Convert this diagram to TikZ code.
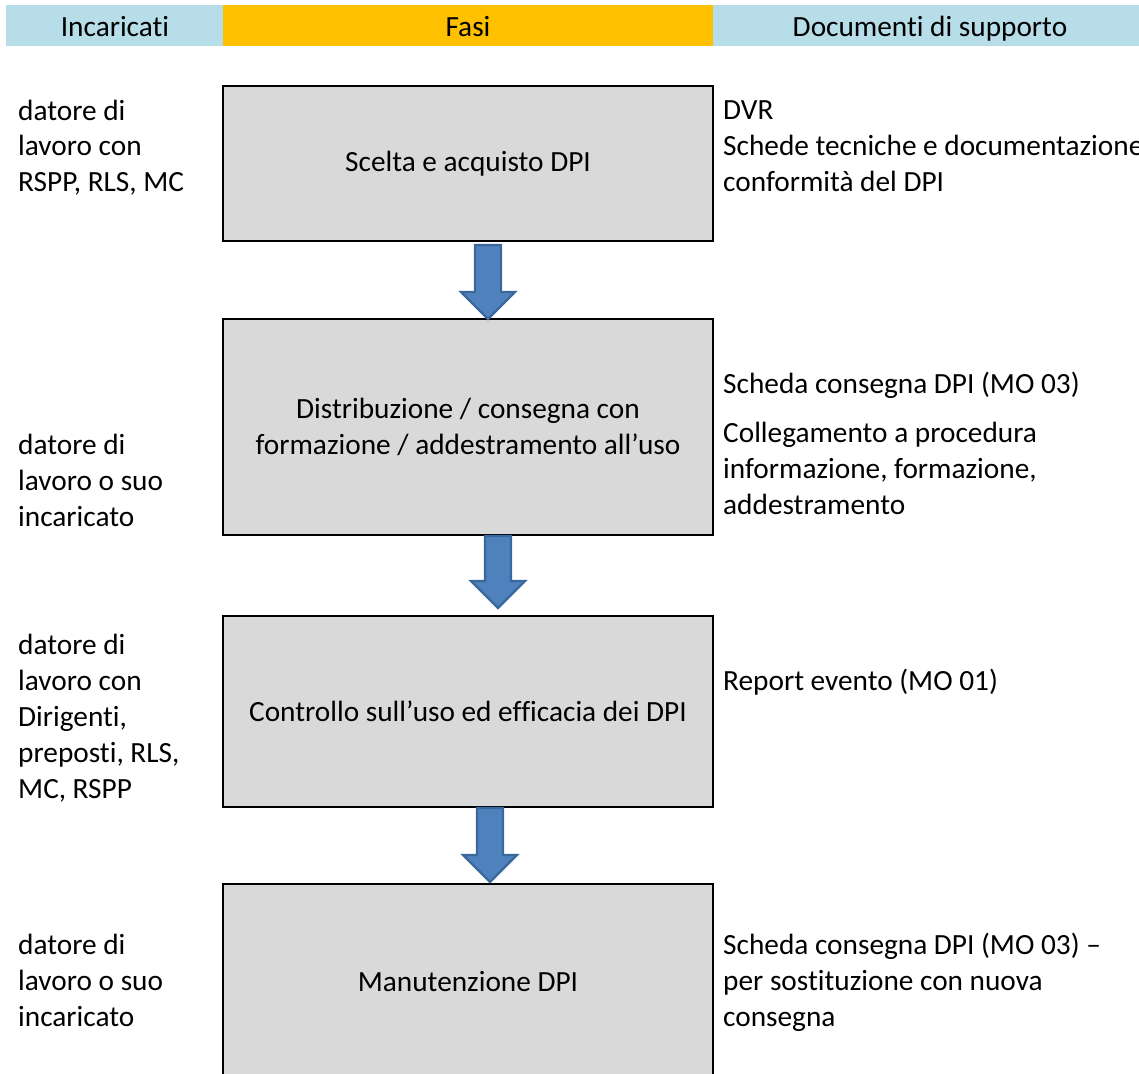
\documentclass[tikz,border=0pt]{standalone}
\usepackage{fontspec}
\setmainfont{Carlito}[Ligatures={NoCommon}]
\definecolor{hdrblue}{HTML}{B7DDE8}
\definecolor{hdryellow}{HTML}{FFC000}
\definecolor{boxgray}{HTML}{D9D9D9}
\definecolor{arrfill}{HTML}{4F81BD}
\definecolor{arrline}{HTML}{3A679C}
\newcommand\blockarrow[3]{%
  \filldraw[barrow] (#1-13,#2) -- (#1+13,#2) -- (#1+13,#3-27) -- (#1+27,#3-27)
    -- (#1,#3) -- (#1-27,#3-27) -- (#1-13,#3-27) -- cycle;}
\begin{document}
\begin{tikzpicture}[x=1pt,y=-1pt,
  every node/.style={font=\fontsize{29.3}{35.5}\selectfont, inner sep=0pt},
  phase/.style={draw=black, line width=1.6pt, fill=boxgray, minimum width=490pt, align=center},
  side/.style={anchor=base west},
  hdr/.style={anchor=base},
  barrow/.style={fill=arrfill, draw=arrline, line width=2.2pt, line join=miter}]
\useasboundingbox (0,0) rectangle (1139,1073);
% header
\fill[hdrblue] (6,5) rectangle (1139,46);
\fill[hdryellow] (223,5) rectangle (713,46);
\node[hdr] (h1) at (115,37) {Incaricati};
\node[hdr] (h2) at (468,37) {Fasi};
\node[hdr] (h3) at (930,37) {Documenti di supporto};
% phases
\node[phase, minimum height=155pt] (b1) at (468,163.5) {Scelta e acquisto DPI};
\node[phase, minimum height=216pt] (b2) at (468,427) {Distribuzione / consegna con\\formazione / addestramento all’uso};
\node[phase, minimum height=191pt] (b3) at (468,711.5) {Controllo sull’uso ed efficacia dei DPI};
\node[phase, minimum height=196pt] (b4) at (468,982) {Manutenzione DPI};
% arrows
\blockarrow{488}{245}{319}
\blockarrow{498}{536}{608}
\blockarrow{490}{808}{882}
% left column
\node[side] (l1a) at (18,120) {datore di};
\node[side] (l1b) at (18,155) {lavoro con};
\node[side] (l1c) at (18,191) {RSPP, RLS, MC};
\node[side] (l2a) at (18,454) {datore di};
\node[side] (l2b) at (18,490) {lavoro o suo};
\node[side] (l2c) at (18,526) {incaricato};
\node[side] (l3a) at (18,654) {datore di};
\node[side] (l3b) at (18,690) {lavoro con};
\node[side] (l3c) at (18,726) {Dirigenti,};
\node[side] (l3d) at (18,762) {preposti, RLS,};
\node[side] (l3e) at (18,798) {MC, RSPP};
\node[side] (l4a) at (18,954) {datore di};
\node[side] (l4b) at (18,990) {lavoro o suo};
\node[side] (l4c) at (18,1026) {incaricato};
% right column
\node[side] (r1a) at (723,119) {DVR};
\node[side] (r1b) at (723,155) {Schede tecniche e documentazione};
\node[side] (r1c) at (723,191) {conformità del DPI};
\node[side] (r2a) at (723,393) {Scheda consegna DPI (MO 03)};
\node[side] (r2b) at (723,442) {Collegamento a procedura};
\node[side] (r2c) at (723,478) {informazione, formazione,};
\node[side] (r2d) at (723,514) {addestramento};
\node[side] (r3a) at (723,690) {Report evento (MO 01)};
\node[side] (r4a) at (723,954) {Scheda consegna DPI (MO 03) –};
\node[side] (r4b) at (723,990) {per sostituzione con nuova};
\node[side] (r4c) at (723,1026) {consegna};
\end{tikzpicture}
\end{document}
